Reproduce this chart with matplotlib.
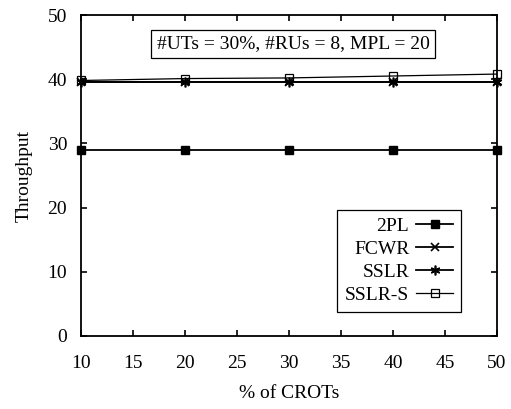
import matplotlib
matplotlib.use("Agg")
import matplotlib.pyplot as plt

plt.rcParams['font.family'] = ['Liberation Serif', 'DejaVu Serif']

crots = [10, 20, 30, 40, 50]
tpl = [29.0, 29.0, 29.0, 29.0, 29.0]
fcwr = [39.5, 39.5, 39.5, 39.5, 39.5]
sslr = [39.5, 39.5, 39.5, 39.5, 39.5]
sslr_s = [39.8, 40.1, 40.2, 40.5, 40.8]

fig = plt.figure(figsize=(5.11, 4.09), dpi=100)
ax = fig.add_axes([0.1585, 0.1785, 0.8141, 0.7848])

lw = 1.3
ax.plot(crots, tpl, color='black', lw=lw, marker='s', ms=6, mfc='black', mec='black', label='2PL', clip_on=False, zorder=3)
ax.plot(crots, fcwr, color='black', lw=lw, marker='x', ms=6, mew=1.2, label='FCWR', clip_on=False, zorder=3)
ax.plot(crots, sslr, color='black', lw=lw, marker=(6, 2, 0), ms=7, mew=1.2, label='SSLR', clip_on=False, zorder=3)
ax.plot(crots, sslr_s, color='black', lw=lw * 0.7, marker='s', ms=6, mfc='none', mec='black', mew=0.9, label='SSLR-S', clip_on=False, zorder=3)

ax.set_xlim(10, 50)
ax.set_ylim(0, 50)
ax.set_xticks(range(10, 51, 5))
ax.set_yticks(range(0, 51, 10))
ax.tick_params(direction='in', top=True, right=True, length=4, width=1.2, labelsize=14)
ax.tick_params(axis='x', pad=14)
ax.tick_params(axis='y', pad=10)
for s in ax.spines.values():
    s.set_linewidth(1.3)

ax.set_xlabel('% of CROTs', fontsize=14, labelpad=9)
ax.set_ylabel('Throughput', fontsize=14, labelpad=11)

ax.text(30.4, 45.5, '#UTs = 30%, #RUs = 8, MPL = 20', fontsize=14, ha='center', va='center',
        bbox=dict(boxstyle='square,pad=0.3', fc='white', ec='black', lw=0.9))

leg = ax.legend(loc='lower right', bbox_to_anchor=(0.913, 0.075), markerfirst=False, fancybox=False,
                edgecolor='black', framealpha=1, fontsize=14, handlelength=1.9, handletextpad=0.35,
                labelspacing=0.28, borderpad=0.4, borderaxespad=0)
leg.get_frame().set_linewidth(0.9)

fig.savefig('out.png', dpi=100)
